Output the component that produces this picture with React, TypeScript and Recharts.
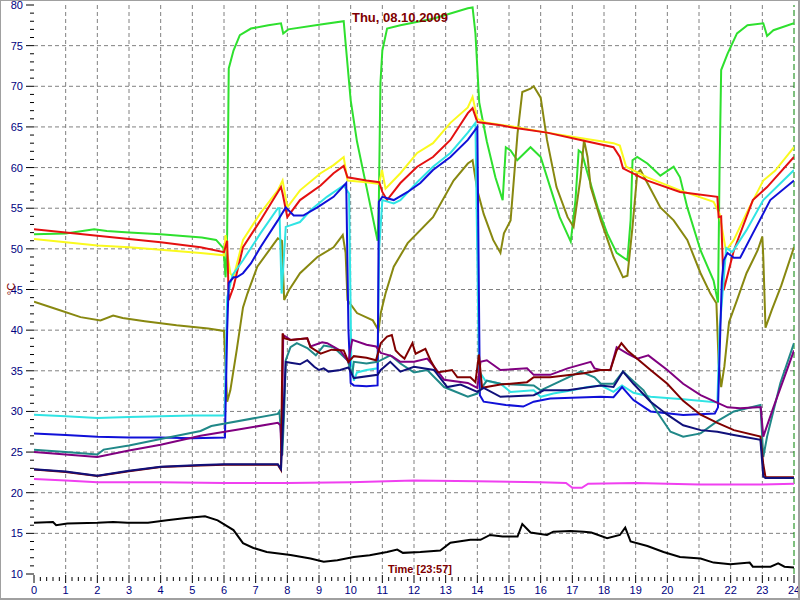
import React from "react";
import { LineChart, Line, XAxis, YAxis, CartesianGrid, ReferenceLine } from "recharts";

type Pt = [number, number];

// [hour, °C]
const green: Pt[] = [
  [0, 51.8], [1, 51.9], [1.9, 52.4], [2.3, 52.2], [3, 52.0], [4, 51.8], [5.3, 51.4], [5.75, 51.1],
  [5.98, 50.1], [6.05, 46.5], [6.1, 51.9], [6.15, 72.2], [6.3, 74.4], [6.5, 76.3], [6.85, 77.1],
  [7.4, 77.5], [7.8, 77.75], [7.87, 76.5], [8.03, 77.0], [9.05, 77.6], [9.78, 78.0], [9.84, 75.3],
  [10.0, 68.3], [10.2, 63.2], [10.5, 57.6], [10.85, 51.0], [10.89, 55.8], [10.94, 70.4], [11.0, 74.4],
  [11.15, 77.1], [11.57, 77.5], [12.6, 78.3], [13.7, 79.6], [13.85, 79.7], [13.94, 76.5], [14.06, 68],
  [14.3, 63.2], [14.57, 58.8], [14.8, 56.0], [14.9, 62.5], [15.05, 62.1], [15.26, 60.9], [15.68, 62.5],
  [16.0, 61.3], [16.3, 57.6], [16.6, 53.9], [16.95, 50.9], [17.1, 56.0], [17.2, 62.1], [17.3, 61.8],
  [17.48, 59.3], [17.8, 55.1], [18.1, 51.9], [18.4, 49.5], [18.74, 48.6], [18.84, 53.5], [18.9, 60.9],
  [19.05, 61.3], [19.37, 60.5], [19.78, 59.0], [20.2, 60.1], [20.4, 58.8], [20.63, 55.1], [21.05, 49.8],
  [21.46, 46.1], [21.6, 43.4], [21.65, 60], [21.7, 72.0], [21.9, 74.0], [22.2, 76.5], [22.53, 77.5],
  [23.03, 77.75], [23.15, 76.2], [23.35, 76.9], [24, 77.75],
];

const olive: Pt[] = [
  [0, 43.5], [0.7, 42.6], [1.47, 41.6], [2.1, 41.2], [2.5, 41.8], [2.8, 41.5], [3.5, 41.1], [4.5, 40.6],
  [5.5, 40.2], [6.0, 39.9], [6.1, 31.2], [6.2, 32.6], [6.4, 37.5], [6.6, 42.8], [6.74, 44.5], [7.05, 47.8],
  [7.7, 51.3], [7.83, 51.0], [7.9, 43.7], [8.05, 44.9], [8.4, 47.0], [8.95, 49.0], [9.46, 50.2],
  [9.75, 51.7], [9.84, 49.5], [9.9, 43.7], [10.2, 42.1], [10.7, 41.2], [10.88, 40.0], [10.95, 42.1],
  [11.1, 44.5], [11.36, 47.8], [11.8, 50.7], [12.6, 53.9], [13.25, 58.4], [13.7, 60.5], [13.85, 60.9],
  [14.0, 57.2], [14.2, 54.3], [14.5, 51.1], [14.73, 49.5], [14.84, 51.9], [15.05, 53.5], [15.27, 64.2],
  [15.42, 69.3], [15.68, 69.7], [15.78, 70.0], [16.0, 68.6], [16.2, 63.4], [16.5, 57.6], [16.85, 53.9],
  [17.04, 52.7], [17.26, 58.8], [17.37, 63.4], [17.48, 61.3], [17.58, 57.6], [17.9, 53.5], [18.3, 49.0],
  [18.6, 46.5], [18.74, 46.7], [18.9, 52.7], [19.05, 59.3], [19.15, 59.7], [19.37, 58.1], [19.78, 55.1],
  [20.2, 53.5], [20.63, 51.1], [21.05, 47.0], [21.36, 44.5], [21.55, 43.3], [21.62, 36], [21.7, 33.0],
  [21.8, 35.5], [21.95, 41], [22.2, 43.7], [22.5, 47.0], [22.85, 49.8], [23.0, 51.5], [23.03, 49.0],
  [23.1, 40.3], [23.3, 42.5], [23.6, 45.5], [24, 50.2],
];

const yellow: Pt[] = [
  [0, 51.2], [1, 50.8], [2, 50.4], [3, 50.2], [4, 49.9], [5.26, 49.5], [6.0, 49.2], [6.05, 51.7],
  [6.1, 49.5], [6.2, 47.0], [6.3, 46.5], [6.6, 51.1], [7.15, 54.4], [7.7, 57.2], [7.85, 58.4], [8.0, 55.1],
  [8.4, 57.2], [9.05, 59.3], [9.46, 60.3], [9.78, 61.3], [9.9, 58.4], [10.5, 58.2], [10.9, 58.0],
  [10.99, 59.7], [11.1, 57.4], [11.57, 59.3], [12.1, 61.8], [12.6, 63.0], [13.15, 65.5], [13.7, 67.4],
  [13.85, 68.7], [14.0, 66.0], [14.3, 65.5], [15.2, 65.0], [16.2, 64.3], [17.3, 63.6], [18.3, 63.0],
  [18.5, 62.7], [18.7, 60.1], [19.37, 58.8], [20.4, 57.2], [21.46, 55.8], [21.65, 54.3], [21.75, 52],
  [21.85, 49.8], [22.1, 51.1], [22.5, 54.4], [23.03, 58.4], [23.4, 59.6], [24, 62.5],
];

const red: Pt[] = [
  [0, 52.4], [1, 52.0], [2, 51.6], [3, 51.2], [4, 50.8], [5.26, 50.2], [6.0, 49.6], [6.1, 51.0],
  [6.15, 43.7], [6.3, 45.3], [6.6, 50.2], [7.15, 53.5], [7.8, 57.6], [7.85, 56.8], [8.0, 53.9], [8.4, 56.0],
  [9.05, 57.8], [9.46, 59.3], [9.78, 60.2], [9.9, 58.8], [10.5, 58.4], [10.9, 58.2], [11.0, 57.0],
  [11.15, 56.0], [11.57, 58.1], [12.1, 60.1], [12.6, 61.3], [13.15, 63.4], [13.7, 66.7], [13.85, 67.3],
  [14.0, 65.6], [14.73, 65.2], [15.15, 64.9], [16.2, 64.3], [17.26, 63.4], [18.3, 62.5], [18.5, 61.3],
  [18.6, 59.9], [19.37, 58.4], [20.4, 57.0], [21.58, 56.4], [21.62, 53.9], [21.7, 54.0], [21.78, 44.9],
  [22.1, 49.8], [22.7, 56.0], [23.15, 57.6], [24, 61.3],
];

const cyan: Pt[] = [
  [0, 29.6], [1, 29.4], [2, 29.2], [3, 29.3], [4, 29.4], [5, 29.5], [6.02, 29.5], [6.1, 44], [6.27, 46.8],
  [6.6, 48.6], [7.15, 51.9], [7.7, 55.0], [7.75, 55.0], [7.82, 44.5], [7.95, 52.7], [8.4, 53.3],
  [8.75, 54.8], [9.25, 56.4], [9.78, 57.8], [9.95, 56.8], [10.02, 36], [10.05, 35.4], [10.1, 33.8],
  [10.2, 34.8], [10.5, 35.1], [10.85, 35.3], [10.9, 50], [11.0, 56.0], [11.36, 55.6], [11.57, 56.0],
  [12.1, 58.2], [12.6, 60.1], [13.15, 61.8], [13.7, 64.3], [13.94, 65.5], [14.05, 35], [14.25, 33.8],
  [14.73, 33.4], [15.05, 32.4], [15.78, 32.6], [16.0, 31.8], [16.4, 32.2], [17.0, 32.6], [17.48, 33.0],
  [17.9, 33.2], [18.3, 32.4], [18.57, 33.2], [18.93, 32.3], [19.47, 31.8], [20.5, 31.5], [21.58, 31.1],
  [21.65, 40], [21.86, 50.1], [22.05, 49.6], [22.5, 52.3], [23.03, 56.0], [24, 59.7],
];

const blue: Pt[] = [
  [0, 27.3], [1, 27.1], [2, 26.9], [3, 26.8], [4, 26.8], [5, 26.7], [6.03, 26.8], [6.1, 40], [6.15, 45.8],
  [6.3, 46.5], [6.4, 46.5], [6.6, 47.0], [6.85, 48.2], [7.15, 50.2], [7.7, 53.5], [7.95, 55.1],
  [8.2, 54.1], [8.5, 54.1], [8.95, 55.1], [9.46, 56.4], [9.86, 58.1], [9.93, 40], [10.0, 33.5],
  [10.1, 33.2], [10.5, 33.1], [10.85, 33.2], [10.89, 55.8], [11.0, 56.4], [11.36, 56.0], [11.8, 57.0],
  [12.2, 58.1], [12.6, 59.7], [13.15, 61.3], [13.7, 63.4], [14.0, 65.0], [14.08, 32], [14.2, 31.2],
  [14.9, 30.8], [15.45, 30.6], [15.78, 31.2], [16.3, 31.6], [17.9, 31.8], [18.3, 31.75], [18.57, 33.0],
  [18.93, 31.4], [19.47, 30.0], [20.5, 29.55], [21.5, 29.75], [21.6, 30.5], [21.72, 46], [21.78, 48.6],
  [21.9, 49.5], [22.1, 48.9], [22.3, 48.9], [22.7, 51.9], [23.25, 56.0], [24, 58.4],
];

const teal: Pt[] = [
  [0, 25.3], [1, 25.0], [2.0, 24.7], [2.2, 25.3], [3, 25.8], [4, 26.6], [5.26, 27.6], [5.6, 28.2],
  [7.7, 29.7], [7.75, 30.0], [7.8, 27.3], [7.84, 24.6], [7.9, 30], [7.95, 36.3], [8.1, 37.9], [8.3, 38.4],
  [8.63, 37.8], [8.9, 36.9], [9.15, 38.1], [9.46, 37.9], [9.9, 36.3], [10.05, 34.5], [10.1, 36.1],
  [10.5, 35.9], [10.85, 36.1], [11.25, 36.9], [11.57, 35.9], [12.0, 34.8], [12.42, 35.1], [12.95, 33.0],
  [13.7, 31.8], [14.0, 32.2], [14.3, 33.8], [14.73, 33.4], [15.78, 33.2], [16.0, 32.6], [17.26, 34.9],
  [17.7, 34.2], [17.9, 33.4], [18.3, 33.4], [18.6, 34.9], [18.93, 33.7], [19.25, 32.6], [19.7, 29.8],
  [20.1, 27.5], [20.5, 26.9], [21.05, 27.3], [21.58, 28.8], [22.1, 30.0], [22.94, 30.8], [23.03, 24.4],
  [23.15, 26.9], [23.57, 33.5], [24, 38.4],
];

const purple: Pt[] = [
  [0, 25.0], [1, 24.7], [2, 24.4], [3, 25.2], [4, 25.9], [5.26, 27.0], [6.5, 27.8], [7.7, 28.6],
  [7.78, 28.3], [7.82, 24.5], [7.87, 39.4], [8.1, 38.8], [8.63, 39.0], [8.73, 38.0], [9.1, 38.5],
  [9.26, 38.4], [9.67, 37.5], [9.93, 36.1], [10.05, 38.8], [10.5, 38.2], [10.8, 38.0], [10.95, 37.2],
  [11.3, 36.8], [11.57, 36.1], [12.0, 36.1], [12.42, 36.5], [12.63, 35.5], [12.95, 33.9], [13.7, 33.5],
  [14.0, 32.9], [14.1, 36.1], [14.3, 36.3], [14.73, 35.1], [15.57, 35.3], [15.78, 34.5], [16.3, 34.5],
  [16.85, 35.3], [17.58, 36.1], [17.7, 35.3], [17.9, 35.1], [18.2, 35.1], [18.4, 37.9], [18.74, 37.1],
  [19.05, 36.5], [19.4, 36.9], [20.0, 35.1], [20.5, 33.4], [21.05, 32.0], [21.9, 30.5], [22.3, 30.4],
  [22.85, 30.5], [22.95, 30.5], [23.03, 26.9], [23.35, 30.5], [24, 37.5],
];

const darkRed: Pt[] = [
  [0, 22.85], [1, 22.55], [2, 22.05], [3, 22.65], [4, 23.15], [5.26, 23.35], [6, 23.45], [7.7, 23.45],
  [7.8, 22.8], [7.85, 39.6], [7.9, 39.0], [8.1, 38.8], [8.63, 39.0], [8.73, 37.9], [9.05, 37.1],
  [9.4, 37.6], [9.78, 37.5], [9.93, 36.1], [10.1, 36.8], [10.5, 36.6], [10.8, 36.3], [10.95, 38.4],
  [11.15, 39.2], [11.3, 39.4], [11.42, 37.5], [11.57, 36.9], [11.7, 36.5], [11.95, 38.4], [12.05, 37.1],
  [12.36, 37.7], [12.52, 36.3], [12.74, 34.8], [13.2, 35.1], [13.37, 34.2], [13.78, 34.2], [13.94, 33.6],
  [14.05, 37.0], [14.15, 32.9], [14.73, 33.3], [15.57, 33.6], [15.78, 34.2], [16.3, 34.2], [17.37, 34.7],
  [17.9, 35.1], [18.2, 35.1], [18.4, 37.5], [18.55, 38.4], [18.74, 37.5], [19.47, 35.1], [20.0, 33.4],
  [20.5, 31.3], [21.05, 29.6], [21.58, 28.6], [22.1, 27.7], [22.94, 26.9], [23.03, 23.5], [23.1, 21.9],
  [24, 21.9],
];

const navy: Pt[] = [
  [0, 22.9], [1, 22.6], [2, 22.1], [3, 22.7], [4, 23.2], [5.26, 23.4], [6, 23.5], [7.7, 23.5], [7.8, 22.9],
  [7.88, 30], [7.95, 36.1], [8.1, 36.0], [8.4, 35.8], [8.63, 36.3], [8.85, 35.5], [9.0, 35.1], [9.15, 35.3],
  [9.3, 34.9], [9.67, 35.1], [9.93, 35.4], [10.1, 34.1], [10.85, 34.5], [10.95, 35.1], [11.25, 36.1],
  [11.57, 34.9], [12.0, 35.5], [12.63, 35.1], [13.05, 33.0], [13.47, 33.3], [14.0, 32.4], [14.2, 32.9],
  [14.73, 31.8], [15.78, 32.0], [16.1, 32.6], [16.85, 32.6], [17.9, 33.2], [18.3, 33.0], [18.6, 34.9],
  [18.93, 33.4], [19.47, 31.2], [20.0, 29.6], [20.5, 28.3], [21.05, 27.7], [21.58, 27.5], [22.1, 27.1],
  [22.94, 26.5], [23.03, 22.0], [23.1, 21.8], [24, 21.8],
];

const magenta: Pt[] = [
  [0, 21.7], [1, 21.5], [2, 21.3], [4, 21.3], [6, 21.2], [8, 21.2], [10, 21.3], [12, 21.5], [14, 21.4],
  [16, 21.3], [16.8, 21.2], [17.0, 20.6], [17.3, 20.6], [17.5, 21.1], [19, 21.2], [21, 21.0], [23, 21.0],
  [24, 21.1],
];

const black: Pt[] = [
  [0, 16.3], [0.6, 16.4], [0.7, 16.0], [1.05, 16.2], [2.0, 16.3], [2.5, 16.4], [2.95, 16.3], [3.6, 16.3],
  [4.2, 16.6], [4.8, 16.9], [5.4, 17.1], [5.8, 16.6], [6.3, 15.4], [6.6, 13.8], [6.93, 13.2], [7.35, 12.7],
  [8.1, 12.35], [8.73, 11.9], [9.15, 11.5], [9.58, 11.7], [10.1, 12.1], [10.6, 12.3], [11.15, 12.7],
  [11.47, 13.0], [11.65, 12.6], [12.2, 12.7], [12.83, 12.9], [13.15, 13.85], [13.78, 14.2], [14.1, 14.2],
  [14.4, 14.8], [14.8, 14.6], [15.27, 14.6], [15.42, 16.15], [15.68, 15.1], [16.2, 14.8], [16.4, 15.2],
  [16.94, 15.3], [17.36, 15.2], [17.6, 15.1], [18.1, 14.4], [18.5, 14.8], [18.67, 15.7], [18.84, 14.0],
  [19.37, 13.45], [19.88, 12.7], [20.4, 12.1], [21.05, 11.9], [21.46, 11.4], [21.99, 11.2], [22.6, 11.4],
  [22.7, 10.9], [23.26, 10.9], [23.5, 11.3], [23.7, 10.9], [24, 10.8],
];

const yTicks = Array.from({ length: 71 }, (_, i) => 10 + i);
const xTicks = Array.from({ length: 121 }, (_, i) => i / 5);
const gridY = [15, 20, 25, 30, 35, 40, 45, 50, 55, 60, 65, 70, 75];
const gridX = Array.from({ length: 23 }, (_, i) => i + 1);

const series: { key: string; pts: Pt[]; color: string }[] = [
  { key: "green", pts: green, color: "#2ee02e" },
  { key: "olive", pts: olive, color: "#888810" },
  { key: "yellow", pts: yellow, color: "#fafa1e" },
  { key: "red", pts: red, color: "#e41010" },
  { key: "cyan", pts: cyan, color: "#30e4e4" },
  { key: "blue", pts: blue, color: "#1010d8" },
  { key: "teal", pts: teal, color: "#208888" },
  { key: "purple", pts: purple, color: "#800080" },
  { key: "darkRed", pts: darkRed, color: "#800000" },
  { key: "navy", pts: navy, color: "#10107a" },
  { key: "magenta", pts: magenta, color: "#f040f0" },
  { key: "black", pts: black, color: "#000000" },
];

const FONT = "'Liberation Sans', Arial, sans-serif";

function YTick(props: any) {
  const { x, y, payload } = props;
  const v = payload.value;
  const major = v % 5 === 0;
  return (
    <g>
      <line x1={x - (major ? 8 : 4)} x2={x} y1={y} y2={y} stroke="#000" />
      {major && (
        <text x={x - 11} y={y} dy={4} textAnchor="end" fill="#000080" fontSize={11} fontFamily={FONT}>
          {v}
        </text>
      )}
    </g>
  );
}

function XTick(props: any) {
  const { x, y, payload } = props;
  const i = Math.round(payload.value * 5);
  const major = i % 5 === 0;
  return (
    <g>
      <line x1={x} x2={x} y1={y + (major ? 1 : 3)} y2={y + (major ? 9 : 7)} stroke="#000" />
      {major && (
        <text x={x} y={y + 20} textAnchor="middle" fill="#000080" fontSize={11} fontFamily={FONT}>
          {i / 5}
        </text>
      )}
    </g>
  );
}

export default function App() {
  return (
    <div style={{ position: "fixed", left: 0, top: 0, width: 800, height: 600, background: "#fff" }}>
      <LineChart width={800} height={600} margin={{ top: 5, right: 6, left: 0, bottom: 0 }}>
        <CartesianGrid
          stroke="#808080"
          strokeDasharray="4 3"
          horizontalValues={gridY}
          verticalValues={gridX}
        />
        <XAxis
          dataKey="t"
          type="number"
          domain={[0, 24]}
          ticks={xTicks}
          interval={0}
          height={26}
          axisLine={false}
          tickLine={false}
          tickSize={0}
          tickMargin={0}
          tick={(p: any) => <XTick {...p} />}
          allowDataOverflow
        />
        <YAxis
          type="number"
          domain={[10, 80]}
          ticks={yTicks}
          interval={0}
          width={34}
          axisLine={false}
          tickLine={false}
          tickSize={0}
          tickMargin={0}
          tick={(p: any) => <YTick {...p} />}
          allowDataOverflow
        />
        <ReferenceLine x={24} stroke="#008000" strokeDasharray="6 3" />
        {series.map((s) => (
          <Line
            key={s.key}
            data={s.pts.map(([t, v]) => ({ t, v }))}
            dataKey="v"
            type="linear"
            stroke={s.color}
            strokeWidth={2}
            dot={false}
            isAnimationActive={false}
          />
        ))}
      </LineChart>
      <svg width={800} height={600} style={{ position: "absolute", left: 0, top: 0, pointerEvents: "none" }}>
        <text x={400} y={22} textAnchor="middle" fill="#800000" fontSize={13} fontWeight="bold" fontFamily={FONT}>
          Thu, 08.10.2009
        </text>
        <text x={420} y={573} textAnchor="middle" fill="#800000" fontSize={11} fontWeight="bold" fontFamily={FONT}>
          Time [23:57]
        </text>
        <text x={15} y={289} transform="rotate(-90 15 289)" textAnchor="middle" fill="#800000" fontSize={11} fontFamily={FONT}>
          °C
        </text>
      </svg>
      <div
        style={{
          position: "absolute",
          left: 0,
          top: 0,
          width: 800,
          height: 600,
          boxSizing: "border-box",
          borderTop: "1px solid #a0a0a0",
          borderLeft: "1px solid #a0a0a0",
          borderRight: "2px solid #a0a0a0",
          borderBottom: "2px solid #a0a0a0",
          pointerEvents: "none",
        }}
      />
    </div>
  );
}
